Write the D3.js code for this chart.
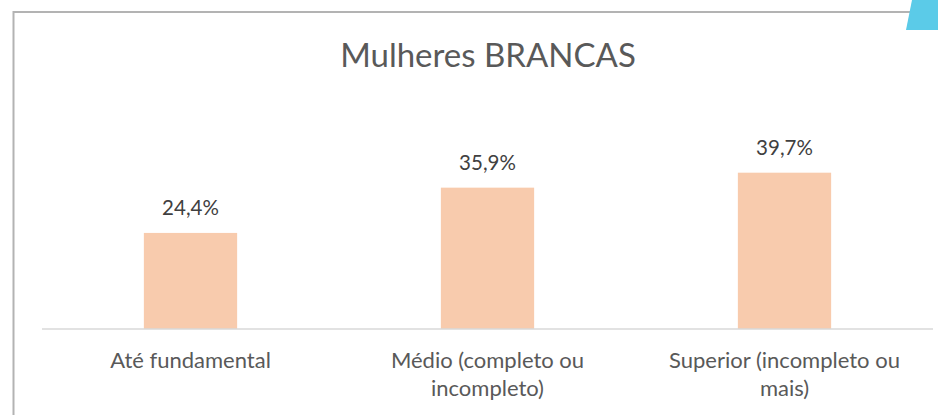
<!DOCTYPE html>
<html>
<head>
<meta charset="utf-8">
<script src="https://cdn.jsdelivr.net/npm/d3@7"></script>
<style>
    body { margin: 0; background: #fff; }
    text { font-family: Lato, "Open Sans", sans-serif; }
</style>
</head>
<body>
<div id="chart"></div>
<script>
const categories = [['Até fundamental'], ['Médio (completo ou', 'incompleto)'], ['Superior (incompleto ou', 'mais)']];
const values = [24.4, 35.9, 39.7];
const valueLabels = ['24,4%', '35,9%', '39,7%'];

const [svgWidth, svgHeight] = [938, 415];
const margin = { left: 42, right: 5, top: 90, bottom: 86 };
const [width, height] = [svgWidth - margin.left - margin.right, svgHeight - margin.top - margin.bottom];

function translate(x, y) {
    return 'translate(' + x + ',' + y + ')';
}

let svg = d3.select('#chart').append('svg')
    .attr('width', svgWidth)
    .attr('height', svgHeight);

// frame (left + top edges visible)
svg.append('path')
    .attr('d', 'M13.5,' + svgHeight + ' V12 H' + svgWidth)
    .style('fill', 'none')
    .style('stroke', '#b3b3b3')
    .style('stroke-width', 2);

// blue corner tab
svg.append('path')
    .attr('d', 'M912,0 H938 V30 H906 Z')
    .style('fill', '#5BCBE8');

svg.append('text')
    .attr('x', 488)
    .attr('y', 67)
    .attr('text-anchor', 'middle')
    .style('font-size', '33px')
    .style('fill', '#595959')
    .text('Mulheres BRANCAS');

let chart = svg.append('g').attr('transform', translate(margin.left, margin.top));

let xScale = d3.scaleBand()
    .domain(d3.range(values.length))
    .range([0, width])
    .paddingInner(0.686)
    .paddingOuter(0.343);

let yScale = d3.scaleLinear()
    .domain([0, 60.7])
    .range([height, 0]);

chart.selectAll('.bar')
    .data(values)
    .enter().append('rect')
    .attr('class', 'bar')
    .attr('x', (d, i) => xScale(i))
    .attr('y', d => yScale(d))
    .attr('width', xScale.bandwidth())
    .attr('height', d => height - yScale(d))
    .style('fill', '#F8CBAD');

chart.selectAll('.val')
    .data(values)
    .enter().append('text')
    .attr('class', 'val')
    .attr('x', (d, i) => xScale(i) + xScale.bandwidth() / 2)
    .attr('y', d => yScale(d) - 18)
    .attr('text-anchor', 'middle')
    .style('font-size', '20.5px')
    .style('fill', '#404040')
    .text((d, i) => valueLabels[i]);

chart.append('line')
    .attr('x1', 0).attr('x2', width)
    .attr('y1', height).attr('y2', height)
    .style('stroke', '#d9d9d9')
    .style('stroke-width', 1.5);

let cats = chart.selectAll('.cat')
    .data(categories)
    .enter().append('text')
    .attr('class', 'cat')
    .attr('x', (d, i) => xScale(i) + xScale.bandwidth() / 2)
    .attr('y', height + 39)
    .attr('text-anchor', 'middle')
    .style('font-size', '22px')
    .style('fill', '#595959');

cats.selectAll('tspan')
    .data(d => d)
    .enter().append('tspan')
    .attr('x', function () { return this.parentNode.getAttribute('x'); })
    .attr('dy', (d, i) => i === 0 ? 0 : 28)
    .text(d => d);
</script>
</body>
</html>
